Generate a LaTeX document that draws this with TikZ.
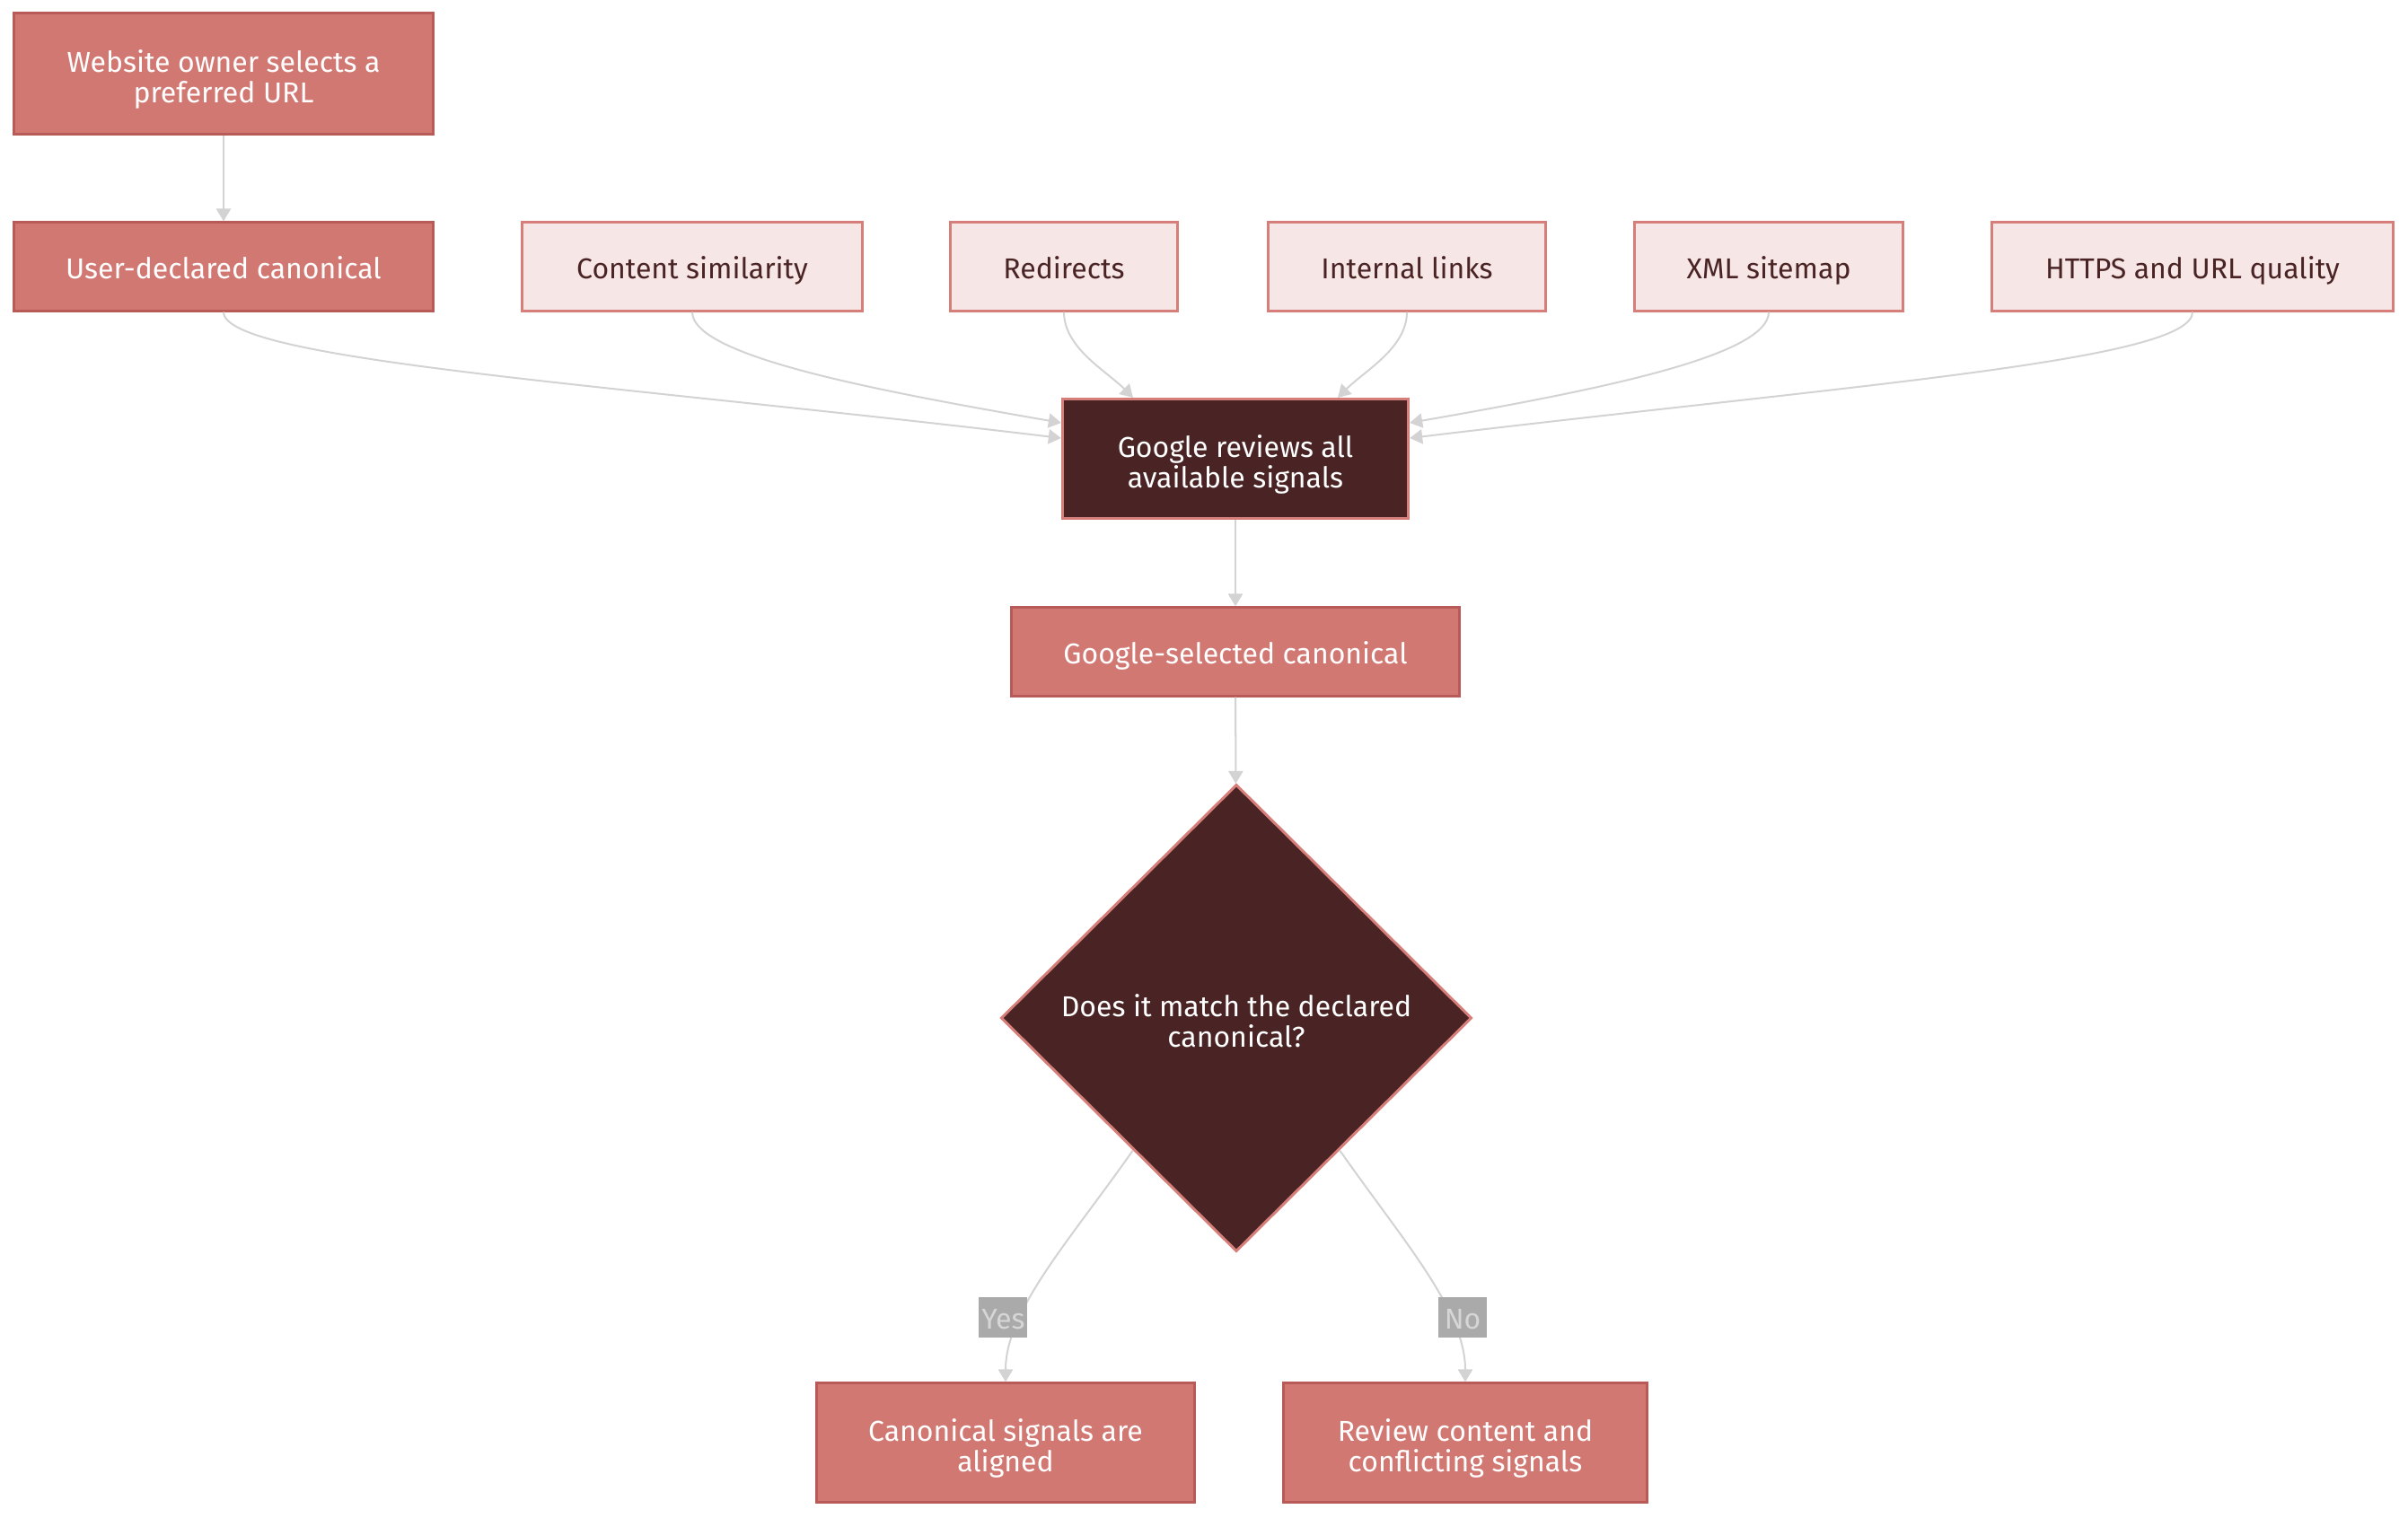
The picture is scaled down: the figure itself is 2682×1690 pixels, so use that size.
\documentclass[tikz,border=0pt]{standalone}
\usepackage{fontspec}
\setmainfont{Fira Sans}
\usetikzlibrary{arrows.meta,shapes.geometric,calc}
\definecolor{rosefill}{RGB}{210,120,115}
\definecolor{roseline}{RGB}{184,91,88}
\definecolor{blushfill}{RGB}{247,230,230}
\definecolor{blushline}{RGB}{214,127,122}
\definecolor{maroon}{RGB}{74,36,36}
\definecolor{edgegray}{RGB}{211,211,211}
\definecolor{lblfill}{RGB}{170,170,170}
\definecolor{lbltext}{RGB}{214,214,214}
\begin{document}
\begin{tikzpicture}[x=0.01cm,y=-0.01cm,
  every node/.style={font=\fontsize{9.1}{9.7}\selectfont,align=center,inner sep=0pt},
  oneline/.style={text height=7.4pt,text depth=0pt},
  twoline/.style={text height=18.6pt,text depth=0pt},
  box/.style={rectangle,line width=0.85pt,minimum height=0.98cm},
  owner/.style={box,fill=rosefill,draw=roseline,text=white},
  signal/.style={box,oneline,fill=blushfill,draw=blushline,text=maroon},
  hub/.style={box,fill=maroon,draw=blushline,text=white},
  decision/.style={diamond,fill=maroon,draw=blushline,text=white,line width=0.85pt,minimum width=5.24cm,minimum height=5.2cm},
  flow/.style={draw=edgegray,line width=0.57pt,-{Triangle[length=4pt,width=4.6pt]}},
  lbl/.style={oneline,fill=lblfill,text=lbltext,minimum width=0.54cm,minimum height=0.45cm}]
\useasboundingbox (0,0) rectangle (2682,1690);

% owner side
\node[owner,twoline,minimum width=4.67cm,minimum height=1.34cm] (website) at (249,82) {Website owner selects a\\preferred URL};
\node[owner,oneline,minimum width=4.67cm] (declared) at (249,297) {User-declared canonical};

% other signals
\node[signal,minimum width=3.78cm] (similarity) at (771,297) {Content similarity};
\node[signal,minimum width=2.53cm] (redirects) at (1185,297) {Redirects};
\node[signal,minimum width=3.08cm] (links) at (1567,297) {Internal links};
\node[signal,minimum width=2.99cm] (sitemap) at (1970,297) {XML sitemap};
\node[signal,minimum width=4.47cm] (https) at (2442,297) {HTTPS and URL quality};

% google side
\node[hub,twoline,minimum width=3.85cm,minimum height=1.33cm] (review) at (1376,511) {Google reviews all\\available signals};
\node[owner,oneline,minimum width=4.98cm] (chosen) at (1376,726) {Google-selected canonical};
\node[decision,twoline] (match) at (1377,1134) {Does it match the declared\\canonical?};
\node[owner,twoline,minimum width=4.21cm,minimum height=1.32cm] (aligned) at (1120,1607) {Canonical signals are\\aligned};
\node[owner,twoline,minimum width=4.04cm,minimum height=1.32cm] (fix) at (1632,1607) {Review content and\\conflicting signals};

\draw[flow] (website) -- (declared);
\draw[flow] (declared.south) .. controls +(0,54) and +(-500,-60) .. ($(review.west)+(0,-23)$);
\draw[flow] (similarity.south) .. controls +(0,50) and +(-200,-35) .. ($(review.west)+(0,-40)$);
\draw[flow] (redirects.south) .. controls +(0,40) and +(-30,-30) .. ($(review.north)+(-114,0)$);
\draw[flow] (links.south) .. controls +(0,40) and +(30,-30) .. ($(review.north)+(114,0)$);
\draw[flow] (sitemap.south) .. controls +(0,50) and +(200,-35) .. ($(review.east)+(0,-40)$);
\draw[flow] (https.south) .. controls +(0,54) and +(500,-60) .. ($(review.east)+(0,-23)$);
\draw[flow] (review) -- (chosen);
\draw[flow] (chosen) -- (match);
\draw[flow] (match.232) .. controls +(-70,100) and +(0,-80) .. (aligned.north)
  node[lbl,pos=0.7,xshift=-0.2cm] {Yes};
\draw[flow] (match.308) .. controls +(70,100) and +(0,-80) .. (fix.north)
  node[lbl,pos=0.7,xshift=0.14cm] {No};
\end{tikzpicture}
\end{document}
